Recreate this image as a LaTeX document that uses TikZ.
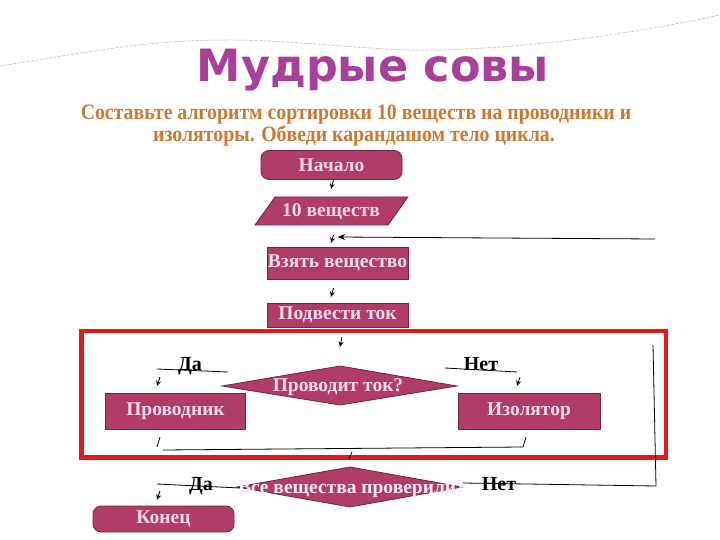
\documentclass[tikz,border=0pt]{standalone}
\usepackage{fontspec}
\setmainfont{Liberation Serif}
\newfontfamily\titlefont{DejaVu Sans}
\usetikzlibrary{arrows.meta}
\definecolor{boxfill}{RGB}{178,60,104}
\definecolor{boxline}{RGB}{110,39,64}
\definecolor{boxtext}{RGB}{248,218,232}
\definecolor{fainttext}{RGB}{250,234,242}
\definecolor{titlecol}{RGB}{168,64,154}
\definecolor{subcol}{RGB}{205,120,50}
\definecolor{framered}{RGB}{225,25,25}
\definecolor{wavecol}{RGB}{190,178,168}
\tikzset{
  blk/.style={draw=boxline, line width=0.8pt, fill=boxfill, text=boxtext, inner sep=0pt,
    font=\fontsize{19.5}{22}\selectfont\bfseries},
  rectbox/.style={blk, rectangle},
  termbox/.style={blk, rectangle, rounded corners=8pt},
  shapepath/.style={draw=boxline, line width=0.8pt, fill=boxfill},
  intext/.style={text=boxtext, inner sep=0pt, font=\fontsize{19.5}{22}\selectfont\bfseries},
  lbl/.style={text=black, inner sep=0pt, font=\fontsize{20}{22}\selectfont\bfseries},
  subtxt/.style={text=subcol, inner sep=0pt, font=\fontsize{22}{24}\selectfont\bfseries, anchor=base},
  stub/.style={line width=0.8pt, -{Stealth[length=5.5pt,width=5pt]}},
  wire/.style={line width=0.8pt},
}
\begin{document}
\begin{tikzpicture}[x=1pt,y=-1pt]
\useasboundingbox[fill=white] (0,0) rectangle (720,540);
% decorative wave
\draw[wavecol, line width=0.5pt, dash pattern=on 3pt off 1.5pt]
  (0,66) .. controls (100,50) and (150,40) .. (230,40)
  .. controls (300,40) and (380,52) .. (440,50)
  .. controls (550,47) and (650,30) .. (720,15);
% title
\node[text=titlecol, font=\titlefont\fontsize{44.5}{50}\selectfont\bfseries, anchor=base] (title) at (373,82) {Мудрые совы};
\node[subtxt] (sub1) at (356,120) {\scalebox{0.9}[1]{Составьте алгоритм сортировки 10 веществ на проводники и}};
\node[subtxt] (sub2) at (354,142) {\scalebox{0.9}[1]{изоляторы. Обведи карандашом тело цикла.}};
% red frame
\draw[framered, line width=4.5pt] (81.5,331) rectangle (666,457.5);
% blocks
\node[termbox, minimum width=141pt, minimum height=29pt] (start) at (331.5,165) {Начало};
\draw[shapepath] (255,225) -- (275,197) -- (408,197) -- (388,225) -- cycle;
\node[intext] (input) at (331,212) {10 веществ};
\node[rectbox, minimum width=141pt, minimum height=32pt] (take) at (337.5,263) {Взять вещество};
\node[rectbox, minimum width=141pt, minimum height=24pt] (current) at (337.5,315) {Подвести ток};
\draw[shapepath] (222,386) -- (340,366) -- (457,386) -- (340,405) -- cycle;
\node[intext] (cond1) at (338,387) {Проводит ток?};
\node[rectbox, minimum width=140pt, minimum height=36pt] (cond) at (175.5,411.5) {Проводник};
\node[rectbox, minimum width=142pt, minimum height=36pt] (insul) at (529,411) {Изолятор};
\draw[shapepath] (237,487) -- (350,467) -- (462,487) -- (350,507) -- cycle;
\node[intext, text=fainttext] (cond2) at (352,489) {Все вещества проверили?};
\node[termbox, minimum width=141pt, minimum height=26pt] (end) at (163.5,519) {Конец};
% labels
\node[lbl, anchor=base] (yes1) at (190,370) {Да};
\node[lbl, anchor=base] (no1) at (481,370) {Нет};
\node[lbl, anchor=base] (yes2) at (201,490) {Да};
\node[lbl, anchor=base] (no2) at (499,490) {Нет};
% connector points
\coordinate (s1a) at (333.5,180); \coordinate (s1b) at (331,189);
\coordinate (s2a) at (333.5,235); \coordinate (s2b) at (331,243);
\coordinate (s3a) at (333.5,288); \coordinate (s3b) at (331,297);
\coordinate (s4a) at (342,337); \coordinate (s4b) at (340,347);
\coordinate (s5a) at (160,377); \coordinate (s5b) at (157,386);
\coordinate (s6a) at (520,377); \coordinate (s6b) at (517,386);
\coordinate (s7a) at (160,491); \coordinate (s7b) at (157,500);
\coordinate (t1a) at (160,437); \coordinate (t1b) at (157,447);
\coordinate (t2a) at (526,437); \coordinate (t2b) at (523,447);
\coordinate (t3a) at (352,452); \coordinate (t3b) at (349,459);
\coordinate (y1a) at (157,369); \coordinate (y1b) at (228,372);
\coordinate (n1a) at (445,368); \coordinate (n1b) at (517,372);
\coordinate (ba) at (163,450); \coordinate (bb) at (523,447);
\coordinate (y2a) at (157,484); \coordinate (y2b) at (240,488);
\coordinate (n2a) at (463,483); \coordinate (n2b) at (656,486);
\coordinate (v1) at (653,345);
\coordinate (la) at (655,239); \coordinate (lb) at (338,237);
% stubs
\foreach \p in {1,...,7} \draw[stub] (s\p a) -- (s\p b);
\foreach \p in {1,2,3} \draw[wire] (t\p a) -- (t\p b);
\draw[wire] (y1a) -- (y1b);
\draw[wire] (n1a) -- (n1b);
\draw[wire] (ba) -- (bb);
\draw[wire] (y2a) -- (y2b);
\draw[wire] (n2a) -- (n2b) -- (v1);
\draw[wire, -{Stealth[length=7pt,width=6pt]}] (la) -- (lb);
\end{tikzpicture}
\end{document}
